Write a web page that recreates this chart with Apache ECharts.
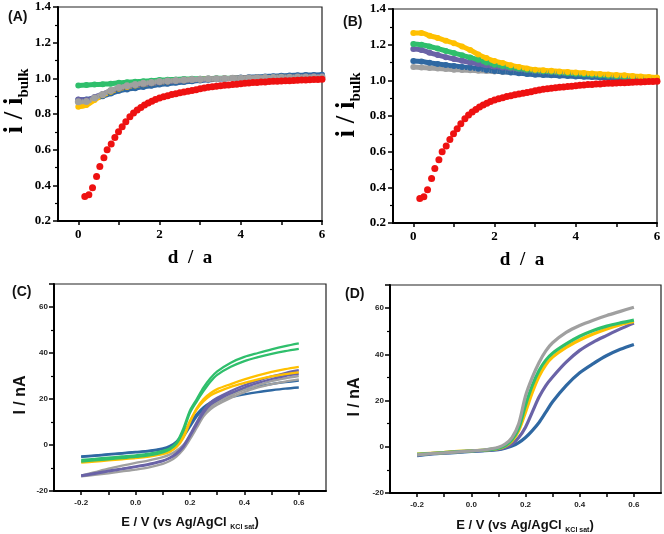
<!DOCTYPE html>
<html><head><meta charset="utf-8">
<script src="https://cdn.jsdelivr.net/npm/echarts@6/dist/echarts.min.js"></script>
<style>html,body{margin:0;padding:0;background:#fff}#c{width:664px;height:534px}</style>
</head><body><div id="c"></div>
<script>
// ---------- DATA ----------
// Panels A/B: normalised current vs distance
const dGrid = [0,0.2,0.4,0.6,0.8,1.0,1.2,1.4,1.6,1.8,2.0,2.2,2.4,2.6,2.8,3.0,3.2,3.4,3.6,3.8,4.0,4.2,4.4,4.6,4.8,5.0,5.2,5.4,5.6,5.8,6.0];
const dRed = [0.16,0.26,0.35,0.45,0.53,0.63,0.71,0.81,0.90,0.99,1.08,1.17,1.27,1.36,1.45,1.54,1.63,1.72,1.81,1.90,
  2.0,2.1,2.2,2.3,2.4,2.5,2.6,2.7,2.8,2.9,3.0,3.1,3.2,3.3,3.4,3.5,3.6,3.7,3.8,3.9,4.0,4.1,4.2,4.3,4.4,4.5,4.6,4.7,4.8,4.9,
  5.0,5.1,5.2,5.3,5.4,5.5,5.6,5.7,5.8,5.9,6.0];
const redVals = [0.338,0.347,0.386,0.450,0.505,0.555,0.600,0.632,0.668,0.700,
  0.728,0.756,0.784,0.805,0.822,0.837,0.850,0.861,0.872,0.882,
  0.890,0.897,0.903,0.909,0.914,0.919,0.924,0.928,0.932,0.936,
  0.942,0.946,0.950,0.953,0.956,0.959,0.961,0.963,0.965,0.967,
  0.970,0.972,0.974,0.976,0.977,0.979,0.980,0.982,0.983,0.984,
  0.985,0.986,0.987,0.988,0.989,0.990,0.991,0.992,0.993,0.994,0.995];

const aGreen  = [0.960,0.962,0.965,0.967,0.970,0.975,0.978,0.981,0.984,0.987,0.990,0.992,0.994,0.996,0.997,0.998,0.999,1.000,1.000,1.000,1.000,1.001,1.001,1.001,1.001,1.002,1.002,1.002,1.002,1.002,1.002];
const aBlue   = [0.880,0.882,0.888,0.900,0.915,0.930,0.938,0.945,0.952,0.958,0.965,0.970,0.975,0.980,0.984,0.988,0.992,0.995,0.998,1.001,1.004,1.006,1.008,1.010,1.012,1.014,1.016,1.017,1.018,1.019,1.020];
const aPurple = [0.882,0.880,0.895,0.912,0.930,0.945,0.955,0.962,0.968,0.973,0.978,0.982,0.985,0.988,0.991,0.993,0.995,0.997,0.998,1.000,1.001,1.002,1.003,1.004,1.005,1.006,1.007,1.008,1.009,1.010,1.010];
const aYellow = [0.840,0.850,0.878,0.905,0.925,0.942,0.952,0.960,0.967,0.973,0.978,0.982,0.986,0.989,0.992,0.994,0.996,0.998,0.999,1.000,1.001,1.002,1.003,1.004,1.005,1.006,1.006,1.007,1.007,1.008,1.008];
const aGray   = [0.868,0.870,0.890,0.910,0.932,0.948,0.958,0.966,0.972,0.977,0.982,0.985,0.988,0.991,0.993,0.995,0.997,0.998,0.999,1.000,1.001,1.002,1.003,1.004,1.005,1.006,1.006,1.007,1.007,1.008,1.008];

const bYellow = [1.265,1.265,1.250,1.238,1.222,1.208,1.190,1.170,1.145,1.125,1.108,1.097,1.085,1.075,1.067,1.060,1.057,1.054,1.050,1.047,1.044,1.041,1.038,1.036,1.033,1.030,1.028,1.025,1.022,1.019,1.016];
const bGreen  = [1.204,1.200,1.190,1.178,1.165,1.153,1.140,1.128,1.115,1.100,1.088,1.080,1.072,1.065,1.060,1.055,1.051,1.048,1.044,1.040,1.037,1.034,1.031,1.029,1.026,1.023,1.020,1.018,1.015,1.012,1.010];
const bPurple = [1.176,1.170,1.155,1.142,1.130,1.120,1.110,1.100,1.092,1.085,1.078,1.072,1.067,1.062,1.058,1.054,1.050,1.047,1.044,1.041,1.038,1.035,1.032,1.029,1.026,1.023,1.020,1.017,1.014,1.011,1.008];
const bBlue   = [1.108,1.105,1.098,1.092,1.086,1.080,1.075,1.070,1.065,1.058,1.052,1.048,1.044,1.040,1.036,1.032,1.030,1.028,1.026,1.024,1.022,1.020,1.018,1.016,1.014,1.012,1.010,1.008,1.006,1.004,1.002];
const bGray   = [1.075,1.072,1.069,1.066,1.063,1.060,1.058,1.056,1.054,1.052,1.050,1.048,1.046,1.044,1.042,1.040,1.038,1.036,1.034,1.031,1.028,1.026,1.024,1.022,1.020,1.017,1.015,1.012,1.010,1.008,1.005];

// Panels C/D: voltammograms
const eGrid = [-0.2,-0.15,-0.1,-0.05,0,0.05,0.1,0.125,0.15,0.175,0.2,0.225,0.25,0.275,0.3,0.35,0.4,0.45,0.5,0.55,0.6];
const cBlueF   = [-5.2,-4.7,-4.2,-3.7,-3.2,-2.7,-1.8,-1.0,0.5,3.5,8,12.5,15.5,17.5,19,20.8,22,23,23.8,24.5,25];
const cBlueR   = [-5.0,-4.5,-4.0,-3.5,-3.0,-2.5,-1.5,-0.5,1.5,5,9.5,13.5,16.5,18.5,20,22.5,24.2,25.5,26.5,27.3,28];
const cYellowF = [-7.7,-7.2,-6.7,-6.2,-5.7,-5.0,-4.0,-3.0,-1.0,3,10,16,20,22.5,24.3,26.5,28.5,30.3,31.8,33,34];
const cYellowR = [-7.2,-6.7,-6.2,-5.7,-5.2,-4.5,-3.5,-2.5,-0.5,4,10.5,15.5,19,21.5,23,25.3,27,28.5,29.8,30.8,31.6];
const cGreenF  = [-6.5,-6.0,-5.5,-5.0,-4.5,-3.8,-2.5,-1.5,1,7,15,20,25,29,32,35.8,38.3,40,41.6,43,44.2];
const cGreenR  = [-7.2,-6.7,-6.2,-5.7,-5.2,-4.5,-3.2,-2.0,0.5,6,14,19,23.5,27.5,30.5,34,36.5,38.2,39.6,40.8,41.8];
const cPurpleF = [-13.2,-12.2,-11.2,-10.3,-9.3,-8.2,-6.8,-5.5,-3.5,-0.5,4.5,10,15,18.5,20.5,23.5,26,28,29.8,31.3,32.5];
const cPurpleR = [-13.5,-12.5,-11.5,-10.5,-9.5,-8.5,-7.0,-5.8,-4,-1,3.8,9,14,17.5,19.5,22.5,25,27,28.7,30,31];
const cGrayF   = [-13.3,-11.8,-10.3,-9.0,-7.8,-6.7,-5.3,-4.2,-2.5,0,4,9,13.5,16.5,18.5,21.5,24,26,27.8,29,30];
const cGrayR   = [-13.6,-13.0,-12.3,-11.5,-10.7,-9.7,-8.2,-7,-5,-2,2.5,7.5,12.5,15.5,17.5,20.5,23,25,26.5,27.6,28.5];

const dBlue   = [-3.8,-3.2,-2.8,-2.4,-2.0,-1.7,-1.2,-0.6,0.3,1.8,4,7,10.5,15,19.5,26.5,32,36,39.5,42.2,44.3];
const dPurple = [-3.5,-3.0,-2.6,-2.2,-1.9,-1.6,-1.0,-0.3,1.2,4,8.5,15,21.5,26.5,30.2,36.6,41.7,45.3,48.2,51,53.5];
const dYellow = [-3.2,-2.8,-2.4,-2.0,-1.7,-1.4,-0.7,0.3,2.5,7,15,23.5,30.5,35.5,38.8,43,46.2,48.8,51,52.8,54.2];
const dGreen  = [-3.3,-2.9,-2.5,-2.1,-1.8,-1.4,-0.6,0.5,3,8,18,26.5,33,37.5,40.5,44.5,47.8,50.3,52.2,53.6,54.8];
const dGray   = [-3.5,-3.0,-2.6,-2.2,-1.8,-1.3,-0.2,1.2,4,10,22,30,36.5,41.5,45,49.5,52.5,54.8,56.8,58.6,60.4];

const xLabelsAB = [0,2,4,6], xTicksAB = [0,1,2,3,4,5,6];
const xLabelsCD = [-0.2,0.0,0.2,0.4,0.6], xTicksCD = [-0.2,-0.1,0.0,0.1,0.2,0.3,0.4,0.5,0.6];

// ---------- STYLE ----------
const C = {red:'#ee1111', blue:'#2f68a2', yellow:'#ffc000', green:'#2fbf6c', purple:'#6a63a7', gray:'#a0a0a0'};
const serif = 'Liberation Serif', sans = 'Liberation Sans';

const grids = [
  {left:58, top:7, width:264, height:214},
  {left:393, top:9, width:264, height:214},
  {left:54, top:284, width:272, height:207},
  {left:390, top:285, width:271, height:208}
].map(g => Object.assign({show:true, borderColor:'#222', borderWidth:1.2, backgroundColor:'transparent', containLabel:false}, g));

function xAx(gi, min, max, labels, ticks, lbl) {
  return {type:'value', gridIndex:gi, min, max, position:'bottom',
    axisLine:{show:true, onZero:false, lineStyle:{color:'#000', width:2}},
    axisTick:{show:true, customValues:ticks, length:4, lineStyle:{color:'#000', width:1.5}},
    axisLabel:Object.assign({customValues:labels}, lbl),
    splitLine:{show:false}};
}
function yAx(gi, min, max, interval, lbl) {
  return {type:'value', gridIndex:gi, min, max, interval,
    axisLine:{show:true, onZero:false, lineStyle:{color:'#000', width:2}},
    axisTick:{show:true, length:5, lineStyle:{color:'#000', width:1.5}},
    minorTick:{show:true, splitNumber:2, length:3, lineStyle:{color:'#000', width:1.2}},
    axisLabel:lbl, splitLine:{show:false}, minorSplitLine:{show:false}};
}
const lblAB = {fontFamily:serif, fontWeight:'bold', fontSize:13, color:'#000', margin:7};
const lblABy = Object.assign({}, lblAB, {formatter:v=>v.toFixed(1)});
const lblCD = {fontFamily:sans, fontWeight:'bold', fontSize:8, color:'#222', margin:8, formatter:v=>v.toFixed(1)};
const lblCDy = {fontFamily:sans, fontWeight:'bold', fontSize:8, color:'#222', margin:6, showMaxLabel:false};

const xAxes = [
  xAx(0,-0.5,6,xLabelsAB,xTicksAB,lblAB),
  xAx(1,-0.5,6,xLabelsAB,xTicksAB,lblAB),
  xAx(2,-0.3,0.7,xLabelsCD,xTicksCD,lblCD),
  xAx(3,-0.3,0.7,xLabelsCD,xTicksCD,lblCD)
];
const yAxes = [
  yAx(0,0.2,1.4,0.2,lblABy), yAx(1,0.2,1.4,0.2,lblABy),
  yAx(2,-20,70,20,lblCDy), yAx(3,-20,70,20,lblCDy)
];

const pair = (xs, ys) => ys.map((v,i)=>[xs[i], v]);
function beadSeries(gi, vals, color, size) {
  return {type:'line', xAxisIndex:gi, yAxisIndex:gi, data:pair(dGrid, vals), smooth:true,
    symbol:'circle', symbolSize:size||6, showSymbol:true, itemStyle:{color},
    lineStyle:{color, width:5}, silent:true, animation:false};
}
function redSeries(gi) {
  return {type:'scatter', xAxisIndex:gi, yAxisIndex:gi, data:pair(dRed, redVals),
    symbol:'circle', symbolSize:7, itemStyle:{color:C.red, opacity:1}, silent:true, animation:false, z:5};
}
function branch(gi, vals, color, w) {
  return {type:'line', xAxisIndex:gi, yAxisIndex:gi, data:pair(eGrid, vals), smooth:0.3, showSymbol:false,
    lineStyle:{color, width:w}, silent:true, animation:false};
}
function loopSeries(gi, f, r, color) {
  return [branch(gi, f, color, 2.3), branch(gi, r, color, 2.3)];
}

const series = [
  beadSeries(0,aGreen,C.green), beadSeries(0,aBlue,C.blue), beadSeries(0,aYellow,C.yellow),
  beadSeries(0,aPurple,C.purple), beadSeries(0,aGray,C.gray,7), redSeries(0),
  beadSeries(1,bGray,C.gray), beadSeries(1,bBlue,C.blue), beadSeries(1,bPurple,C.purple),
  beadSeries(1,bGreen,C.green), beadSeries(1,bYellow,C.yellow), redSeries(1),
  ...loopSeries(2,cBlueF,cBlueR,C.blue), ...loopSeries(2,cGrayF,cGrayR,C.gray),
  ...loopSeries(2,cPurpleF,cPurpleR,C.purple), ...loopSeries(2,cYellowF,cYellowR,C.yellow),
  ...loopSeries(2,cGreenF,cGreenR,C.green),
  branch(3,dBlue,C.blue,3.2), branch(3,dPurple,C.purple,3.2), branch(3,dYellow,C.yellow,3.2),
  branch(3,dGreen,C.green,3.2), branch(3,dGray,C.gray,3.2)
];

function label(x, y, text, size) {
  return {type:'text', x, y, style:{text, fontFamily:sans, fontWeight:'bold', fontSize:size, fill:'#111', align:'left', verticalAlign:'middle'}};
}
function iName(x, y) {
  return {type:'text', x, y, rotation:Math.PI/2, style:{text:'{a|i / i}{s|bulk}', align:'center', verticalAlign:'middle',
    rich:{a:{fontFamily:serif, fontWeight:'bold', fontSize:27, fill:'#000', lineHeight:34, verticalAlign:'middle'},
          s:{fontFamily:serif, fontWeight:'bold', fontSize:15, fill:'#000', lineHeight:14, verticalAlign:'bottom'}}}};
}
function dName(x, y) {
  return {type:'text', x, y, style:{text:'d  /  a', fontFamily:serif, fontWeight:'bold', fontSize:19, fill:'#000', align:'center', verticalAlign:'middle'}};
}
function eName(x, y) {
  return {type:'text', x, y, style:{text:'{a|E / V (vs Ag/AgCl }{s|KCl sat}{a|)}', align:'center', verticalAlign:'middle',
    rich:{a:{fontFamily:sans, fontWeight:'bold', fontSize:13, fill:'#111', lineHeight:18, verticalAlign:'middle'},
          s:{fontFamily:sans, fontWeight:'bold', fontSize:7, fill:'#111', lineHeight:8, verticalAlign:'bottom'}}}};
}
function nAName(x, y) {
  return {type:'text', x, y, rotation:Math.PI/2, style:{text:'I / nA', fontFamily:sans, fontWeight:'bold', fontSize:16, fill:'#111', align:'center', verticalAlign:'middle'}};
}

const graphic = [
  label(8,17,'(A)',14), label(343,22,'(B)',14), label(12,292,'(C)',14), label(345,294,'(D)',14),
  iName(15,101), iName(347,105), dName(190,258), dName(522,260),
  eName(190,522), eName(525,525), nAName(21,395), nAName(355,397)
];

const chart = echarts.init(document.getElementById('c'), null, {renderer:'canvas'});
chart.setOption({animation:false, grid:grids, xAxis:xAxes, yAxis:yAxes, series, graphic});
</script></body></html>
